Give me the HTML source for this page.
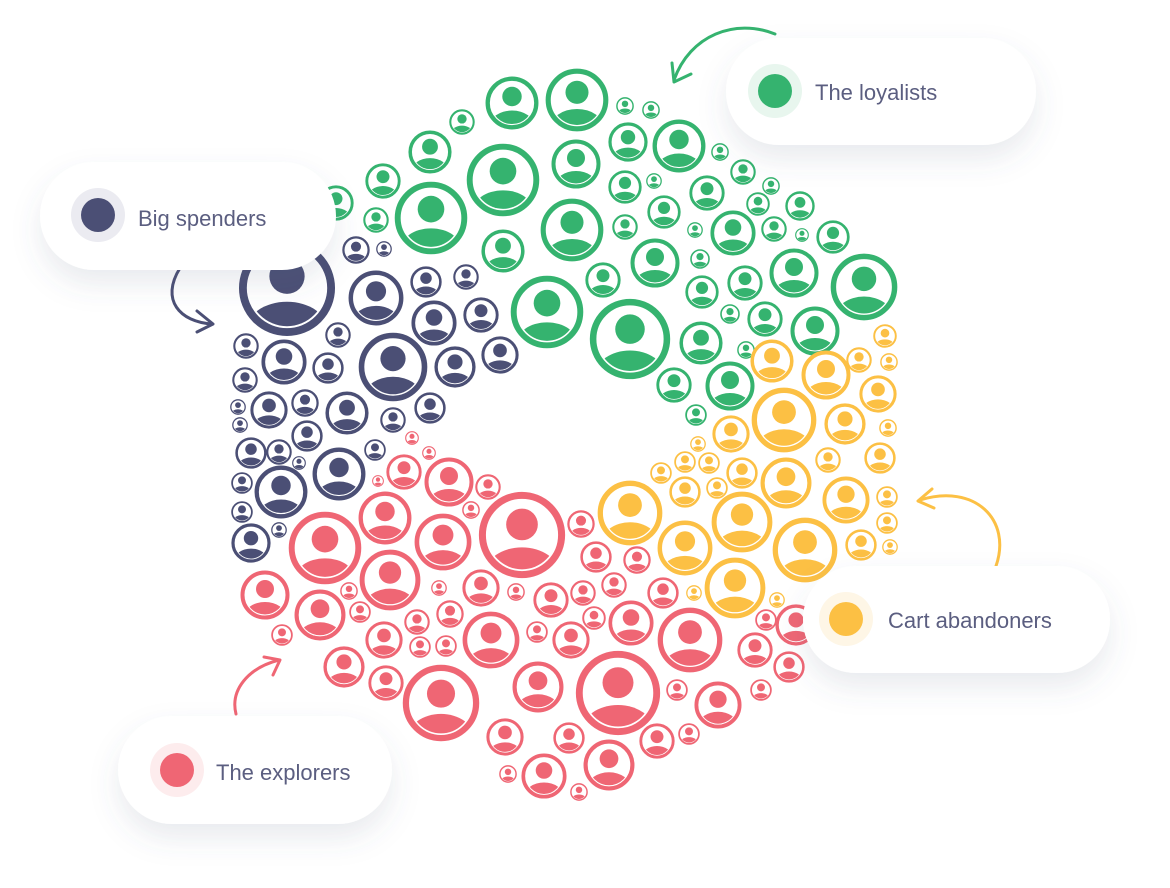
<!DOCTYPE html>
<html><head><meta charset="utf-8"><style>
html,body{margin:0;padding:0;background:#fff;}
svg{display:block}
.g{color:#35b36f}.n{color:#4b4f75}.r{color:#ef6674}.y{color:#fcc044}
.lbl{font-family:"Liberation Sans",sans-serif;font-size:22px;fill:#5b5e80}
</style></head><body>
<svg width="1170" height="888" viewBox="0 0 1170 888" xmlns="http://www.w3.org/2000/svg">
<defs>
<clipPath id="cp"><circle r="39"/></clipPath>
<symbol id="p" viewBox="-50 -50 100 100" overflow="visible">
<circle r="45" fill="#fff" stroke="currentColor" stroke-width="8"/>
<circle cy="-12" r="18" fill="currentColor"/>
<ellipse cy="44" rx="42" ry="30" fill="currentColor" clip-path="url(#cp)"/>
</symbol>
<filter id="sh" x="-30%" y="-50%" width="160%" height="220%"><feDropShadow dx="0" dy="14" stdDeviation="14" flood-color="#5a6080" flood-opacity="0.13"/></filter>
</defs>

<g class="g">
<use href="#p" x="485" y="76" width="54" height="54"/>
<use href="#p" x="545" y="68" width="64" height="64"/>
<use href="#p" x="449" y="109" width="26" height="26"/>
<use href="#p" x="616" y="97" width="18" height="18"/>
<use href="#p" x="642" y="101" width="18" height="18"/>
<use href="#p" x="408" y="130" width="44" height="44"/>
<use href="#p" x="466" y="143" width="74" height="74"/>
<use href="#p" x="551" y="139" width="50" height="50"/>
<use href="#p" x="608" y="122" width="40" height="40"/>
<use href="#p" x="652" y="119" width="54" height="54"/>
<use href="#p" x="711" y="143" width="18" height="18"/>
<use href="#p" x="365" y="163" width="36" height="36"/>
<use href="#p" x="394" y="181" width="74" height="74"/>
<use href="#p" x="540" y="198" width="64" height="64"/>
<use href="#p" x="608" y="170" width="34" height="34"/>
<use href="#p" x="646" y="173" width="16" height="16"/>
<use href="#p" x="689" y="175" width="36" height="36"/>
<use href="#p" x="730" y="159" width="26" height="26"/>
<use href="#p" x="762" y="177" width="18" height="18"/>
<use href="#p" x="318" y="185" width="36" height="36"/>
<use href="#p" x="363" y="207" width="26" height="26"/>
<use href="#p" x="481" y="229" width="44" height="44"/>
<use href="#p" x="612" y="214" width="26" height="26"/>
<use href="#p" x="647" y="195" width="34" height="34"/>
<use href="#p" x="687" y="222" width="16" height="16"/>
<use href="#p" x="710" y="210" width="46" height="46"/>
<use href="#p" x="746" y="192" width="24" height="24"/>
<use href="#p" x="761" y="216" width="26" height="26"/>
<use href="#p" x="795" y="228" width="14" height="14"/>
<use href="#p" x="785" y="191" width="30" height="30"/>
<use href="#p" x="816" y="220" width="34" height="34"/>
<use href="#p" x="630" y="238" width="50" height="50"/>
<use href="#p" x="585" y="262" width="36" height="36"/>
<use href="#p" x="690" y="249" width="20" height="20"/>
<use href="#p" x="769" y="248" width="50" height="50"/>
<use href="#p" x="727" y="265" width="36" height="36"/>
<use href="#p" x="830" y="253" width="68" height="68"/>
<use href="#p" x="510" y="275" width="74" height="74"/>
<use href="#p" x="589" y="298" width="82" height="82"/>
<use href="#p" x="685" y="275" width="34" height="34"/>
<use href="#p" x="720" y="304" width="20" height="20"/>
<use href="#p" x="747" y="301" width="36" height="36"/>
<use href="#p" x="790" y="306" width="50" height="50"/>
<use href="#p" x="679" y="321" width="44" height="44"/>
<use href="#p" x="737" y="341" width="18" height="18"/>
<use href="#p" x="656" y="367" width="36" height="36"/>
<use href="#p" x="705" y="361" width="50" height="50"/>
<use href="#p" x="685" y="404" width="22" height="22"/>
</g>

<g class="n">
<use href="#p" x="238" y="239" width="98" height="98"/>
<use href="#p" x="342" y="236" width="28" height="28"/>
<use href="#p" x="376" y="241" width="16" height="16"/>
<use href="#p" x="348" y="270" width="56" height="56"/>
<use href="#p" x="410" y="266" width="32" height="32"/>
<use href="#p" x="453" y="264" width="26" height="26"/>
<use href="#p" x="411" y="300" width="46" height="46"/>
<use href="#p" x="463" y="297" width="36" height="36"/>
<use href="#p" x="325" y="322" width="26" height="26"/>
<use href="#p" x="233" y="333" width="26" height="26"/>
<use href="#p" x="261" y="339" width="46" height="46"/>
<use href="#p" x="312" y="352" width="32" height="32"/>
<use href="#p" x="358" y="332" width="70" height="70"/>
<use href="#p" x="434" y="346" width="42" height="42"/>
<use href="#p" x="481" y="336" width="38" height="38"/>
<use href="#p" x="232" y="367" width="26" height="26"/>
<use href="#p" x="230" y="399" width="16" height="16"/>
<use href="#p" x="250" y="391" width="38" height="38"/>
<use href="#p" x="291" y="389" width="28" height="28"/>
<use href="#p" x="325" y="391" width="44" height="44"/>
<use href="#p" x="380" y="407" width="26" height="26"/>
<use href="#p" x="414" y="392" width="32" height="32"/>
<use href="#p" x="232" y="417" width="16" height="16"/>
<use href="#p" x="291" y="420" width="32" height="32"/>
<use href="#p" x="235" y="437" width="32" height="32"/>
<use href="#p" x="266" y="439" width="26" height="26"/>
<use href="#p" x="292" y="456" width="14" height="14"/>
<use href="#p" x="312" y="447" width="54" height="54"/>
<use href="#p" x="364" y="439" width="22" height="22"/>
<use href="#p" x="231" y="472" width="22" height="22"/>
<use href="#p" x="254" y="465" width="54" height="54"/>
<use href="#p" x="231" y="501" width="22" height="22"/>
<use href="#p" x="271" y="522" width="16" height="16"/>
<use href="#p" x="231" y="523" width="40" height="40"/>
</g>

<g class="y">
<use href="#p" x="873" y="324" width="24" height="24"/>
<use href="#p" x="750" y="339" width="44" height="44"/>
<use href="#p" x="801" y="350" width="50" height="50"/>
<use href="#p" x="846" y="347" width="26" height="26"/>
<use href="#p" x="880" y="353" width="18" height="18"/>
<use href="#p" x="859" y="375" width="38" height="38"/>
<use href="#p" x="751" y="387" width="66" height="66"/>
<use href="#p" x="824" y="403" width="42" height="42"/>
<use href="#p" x="712" y="415" width="38" height="38"/>
<use href="#p" x="879" y="419" width="18" height="18"/>
<use href="#p" x="690" y="436" width="16" height="16"/>
<use href="#p" x="674" y="451" width="22" height="22"/>
<use href="#p" x="698" y="452" width="22" height="22"/>
<use href="#p" x="650" y="462" width="22" height="22"/>
<use href="#p" x="726" y="457" width="32" height="32"/>
<use href="#p" x="760" y="457" width="52" height="52"/>
<use href="#p" x="815" y="447" width="26" height="26"/>
<use href="#p" x="864" y="442" width="32" height="32"/>
<use href="#p" x="669" y="476" width="32" height="32"/>
<use href="#p" x="706" y="477" width="22" height="22"/>
<use href="#p" x="597" y="480" width="66" height="66"/>
<use href="#p" x="711" y="491" width="62" height="62"/>
<use href="#p" x="822" y="476" width="48" height="48"/>
<use href="#p" x="876" y="486" width="22" height="22"/>
<use href="#p" x="657" y="520" width="56" height="56"/>
<use href="#p" x="772" y="517" width="66" height="66"/>
<use href="#p" x="845" y="529" width="32" height="32"/>
<use href="#p" x="876" y="512" width="22" height="22"/>
<use href="#p" x="882" y="539" width="16" height="16"/>
<use href="#p" x="704" y="557" width="62" height="62"/>
<use href="#p" x="686" y="585" width="16" height="16"/>
<use href="#p" x="769" y="592" width="16" height="16"/>
</g>

<g class="r">
<use href="#p" x="405" y="431" width="14" height="14"/>
<use href="#p" x="422" y="446" width="14" height="14"/>
<use href="#p" x="386" y="454" width="36" height="36"/>
<use href="#p" x="424" y="457" width="50" height="50"/>
<use href="#p" x="372" y="475" width="12" height="12"/>
<use href="#p" x="475" y="474" width="26" height="26"/>
<use href="#p" x="462" y="501" width="18" height="18"/>
<use href="#p" x="358" y="491" width="54" height="54"/>
<use href="#p" x="288" y="511" width="74" height="74"/>
<use href="#p" x="414" y="513" width="58" height="58"/>
<use href="#p" x="478" y="491" width="88" height="88"/>
<use href="#p" x="567" y="510" width="28" height="28"/>
<use href="#p" x="359" y="549" width="62" height="62"/>
<use href="#p" x="240" y="570" width="50" height="50"/>
<use href="#p" x="340" y="582" width="18" height="18"/>
<use href="#p" x="349" y="601" width="22" height="22"/>
<use href="#p" x="294" y="589" width="52" height="52"/>
<use href="#p" x="271" y="624" width="22" height="22"/>
<use href="#p" x="431" y="580" width="16" height="16"/>
<use href="#p" x="462" y="569" width="38" height="38"/>
<use href="#p" x="507" y="583" width="18" height="18"/>
<use href="#p" x="533" y="582" width="36" height="36"/>
<use href="#p" x="570" y="580" width="26" height="26"/>
<use href="#p" x="580" y="541" width="32" height="32"/>
<use href="#p" x="623" y="546" width="28" height="28"/>
<use href="#p" x="601" y="572" width="26" height="26"/>
<use href="#p" x="582" y="606" width="24" height="24"/>
<use href="#p" x="608" y="600" width="46" height="46"/>
<use href="#p" x="647" y="577" width="32" height="32"/>
<use href="#p" x="404" y="609" width="26" height="26"/>
<use href="#p" x="436" y="600" width="28" height="28"/>
<use href="#p" x="365" y="621" width="38" height="38"/>
<use href="#p" x="409" y="636" width="22" height="22"/>
<use href="#p" x="435" y="635" width="22" height="22"/>
<use href="#p" x="462" y="611" width="58" height="58"/>
<use href="#p" x="526" y="621" width="22" height="22"/>
<use href="#p" x="552" y="621" width="38" height="38"/>
<use href="#p" x="657" y="607" width="66" height="66"/>
<use href="#p" x="755" y="609" width="22" height="22"/>
<use href="#p" x="737" y="632" width="36" height="36"/>
<use href="#p" x="773" y="651" width="32" height="32"/>
<use href="#p" x="775" y="604" width="42" height="42"/>
<use href="#p" x="323" y="646" width="42" height="42"/>
<use href="#p" x="368" y="665" width="36" height="36"/>
<use href="#p" x="402" y="664" width="78" height="78"/>
<use href="#p" x="512" y="661" width="52" height="52"/>
<use href="#p" x="575" y="650" width="86" height="86"/>
<use href="#p" x="666" y="679" width="22" height="22"/>
<use href="#p" x="694" y="681" width="48" height="48"/>
<use href="#p" x="750" y="679" width="22" height="22"/>
<use href="#p" x="486" y="718" width="38" height="38"/>
<use href="#p" x="553" y="722" width="32" height="32"/>
<use href="#p" x="639" y="723" width="36" height="36"/>
<use href="#p" x="678" y="723" width="22" height="22"/>
<use href="#p" x="583" y="739" width="52" height="52"/>
<use href="#p" x="499" y="765" width="18" height="18"/>
<use href="#p" x="521" y="753" width="46" height="46"/>
<use href="#p" x="570" y="783" width="18" height="18"/>
</g>

<g fill="none" stroke-width="3" stroke-linecap="round" stroke-linejoin="round">
<path d="M775 34 C735 18 690 35 674 80" stroke="#35b36f"/>
<path d="M672 63 L674 82 L691 74" stroke="#35b36f"/>
<path d="M180 268 C160 300 180 322 212 324" stroke="#4b4f75"/>
<path d="M197 311 L213 324 L197 332" stroke="#4b4f75"/>
<path d="M996 566 C1012 520 975 483 920 500" stroke="#fcc044"/>
<path d="M932 489 L918 501 L934 508" stroke="#fcc044"/>
<path d="M236 714 C230 690 248 668 279 660" stroke="#ef6674"/>
<path d="M264 657 L280 660 L273 675" stroke="#ef6674"/>
</g>

<g filter="url(#sh)" fill="#fff">
<rect x="40" y="162" width="296" height="108" rx="54"/>
<rect x="726" y="38" width="310" height="107" rx="53"/>
<rect x="803" y="566" width="307" height="107" rx="53"/>
<rect x="118" y="716" width="274" height="108" rx="54"/>
</g>
<circle cx="98" cy="215" r="27" fill="#ebebf1"/><circle cx="98" cy="215" r="17" fill="#4b4f75"/>
<text class="lbl" x="138" y="226">Big spenders</text>
<circle cx="775" cy="91" r="27" fill="#e8f6ee"/><circle cx="775" cy="91" r="17" fill="#35b36f"/>
<text class="lbl" x="815" y="100">The loyalists</text>
<circle cx="846" cy="619" r="27" fill="#fef6e6"/><circle cx="846" cy="619" r="17" fill="#fcc044"/>
<text class="lbl" x="888" y="628">Cart abandoners</text>
<circle cx="177" cy="770" r="27" fill="#fdeced"/><circle cx="177" cy="770" r="17" fill="#ef6674"/>
<text class="lbl" x="216" y="780">The explorers</text>
</svg>
</body></html>
